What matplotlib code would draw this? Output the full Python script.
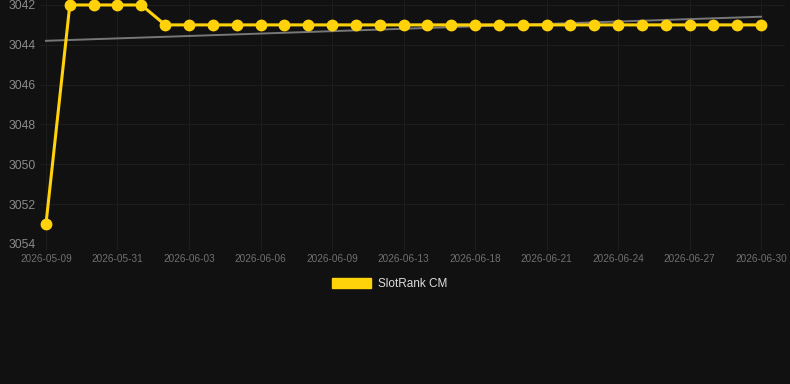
import matplotlib
matplotlib.use("Agg")
import matplotlib.pyplot as plt
import numpy as np
from matplotlib.patches import Patch

plt.rcParams['font.family'] = ['Liberation Sans', 'DejaVu Sans']

ranks = [3053, 3042, 3042, 3042, 3042] + [3043] * 26
tick_labels = ["2026-05-09", "2026-05-31", "2026-06-03", "2026-06-06", "2026-06-09",
               "2026-06-13", "2026-06-18", "2026-06-21", "2026-06-24", "2026-06-27",
               "2026-06-30"]
series_name = "SlotRank CM"

bg = "#111111"
fig = plt.figure(figsize=(7.9, 3.84), dpi=100, facecolor=bg)
ax = fig.add_axes([40/790, 1 - 244/384, 745/790, 244/384], facecolor=bg)

x = np.arange(len(ranks))
coef = np.polyfit(x, ranks, 1)
ax.plot(x, np.polyval(coef, x), color="#777777", lw=1.4, zorder=2)
ax.plot(x, ranks, color="#FFD20A", lw=2.2, marker="o", ms=7.5, zorder=3)

ax.set_xlim(-0.25, 31.0)
ax.set_ylim(3054, 3041.75)
ax.set_yticks(np.arange(3042, 3055, 2))
ax.set_xticks(np.arange(0, len(ranks), 3))
ax.set_xticklabels(tick_labels)
ax.tick_params(axis='y', colors="#8a8a8a", labelsize=8.7, length=0, pad=3)
ax.tick_params(axis='x', colors="#707070", labelsize=7.2, length=4, width=0.8,
               color="#1d1d1d", pad=3)
ax.grid(True, color="#1d1d1d", lw=0.8)
for s in ax.spines.values():
    s.set_visible(False)
ax.axhline(3054, color="#262626", lw=0.8)

leg = fig.legend(handles=[Patch(facecolor="#FFD20A", edgecolor="#FFD20A", label=series_name)],
                 loc="center", bbox_to_anchor=(390/790, 1 - 284/384), frameon=False,
                 fontsize=8.5, handlelength=3.3, handleheight=1.0, handletextpad=0.6)
for t in leg.get_texts():
    t.set_color("#dddddd")

fig.savefig("out.png", dpi=100, facecolor=bg)
